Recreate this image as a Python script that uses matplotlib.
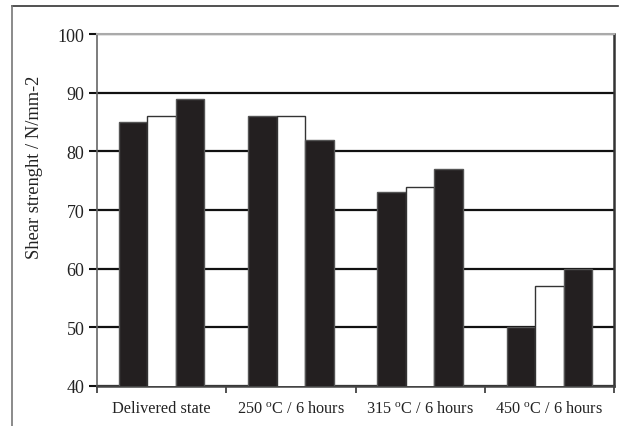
import matplotlib
matplotlib.use("Agg")
import matplotlib.pyplot as plt
from matplotlib.lines import Line2D
import numpy as np

categories = ["Delivered state", r"250 $^{\mathrm{o}}$C / 6 hours",
              r"315 $^{\mathrm{o}}$C / 6 hours", r"450 $^{\mathrm{o}}$C / 6 hours"]
series_a = [85, 86, 73, 50]
series_b = [86, 86, 74, 57]
series_c = [89, 82, 77, 60]
y_ticks = [40, 50, 60, 70, 80, 90, 100]
y_label = "Shear strenght / N/mm-2"

plt.rcParams["font.family"] = ["Liberation Serif", "DejaVu Serif"]
plt.rcParams["mathtext.fontset"] = "custom"
plt.rcParams["mathtext.rm"] = "Liberation Serif"
plt.rcParams["mathtext.it"] = "Liberation Serif:italic"

fig = plt.figure(figsize=(6.23, 4.27), dpi=100)
ax = fig.add_axes([0.1557, 0.0937, 0.9856 - 0.1557, 0.918 - 0.0937])

x = np.arange(len(categories))
w = 0.221
black = "#231f20"
ax.bar(x - w, series_a, w, color=black, edgecolor="#555555", linewidth=1.0, zorder=3)
ax.bar(x, series_b, w, color="white", edgecolor="#333333", linewidth=1.0, zorder=3)
ax.bar(x + w, series_c, w, color=black, edgecolor="#555555", linewidth=1.0, zorder=3)

ax.set_ylim(40, 100)
ax.set_xlim(-0.5, len(categories) - 0.5)
ax.set_yticks(y_ticks)
ax.set_yticklabels([str(t) for t in y_ticks], fontsize=13, color="#222222")
ax.yaxis.grid(True, color="#111111", linewidth=1.6, zorder=1)
ax.set_axisbelow(True)

ax.set_xticks(x)
ax.set_xticklabels(categories, fontsize=11.7, color="#222222")
ax.tick_params(axis="x", which="major", length=0, pad=10)
ax.set_xticks(np.arange(-0.5, len(categories), 1.0), minor=True)
ax.tick_params(axis="x", which="minor", length=5, width=1.2, color="#333333", direction="out")
ax.tick_params(axis="y", length=6, width=1.5, color="#111111", pad=3)

ax.set_ylabel(y_label, fontsize=13.3, color="#222222")
ax.yaxis.set_label_coords(-0.105, 0.624)

ax.spines["top"].set_color("#aaaaaa")
ax.spines["top"].set_linewidth(1.5)
ax.spines["left"].set_color("#666666")
ax.spines["left"].set_linewidth(1.2)
ax.spines["right"].set_color("#333333")
ax.spines["right"].set_linewidth(1.8)
ax.spines["bottom"].set_color("#444444")
ax.spines["bottom"].set_linewidth(1.8)

# outer frame (top and left edges)
fig.add_artist(Line2D([0.0193, 0.992], [0.9836, 0.9836], transform=fig.transFigure,
                      color="#333333", linewidth=1.2))
fig.add_artist(Line2D([0.0193, 0.0193], [0.0, 0.9836], transform=fig.transFigure,
                      color="#777777", linewidth=1.2))

fig.savefig("out.png", dpi=100)
